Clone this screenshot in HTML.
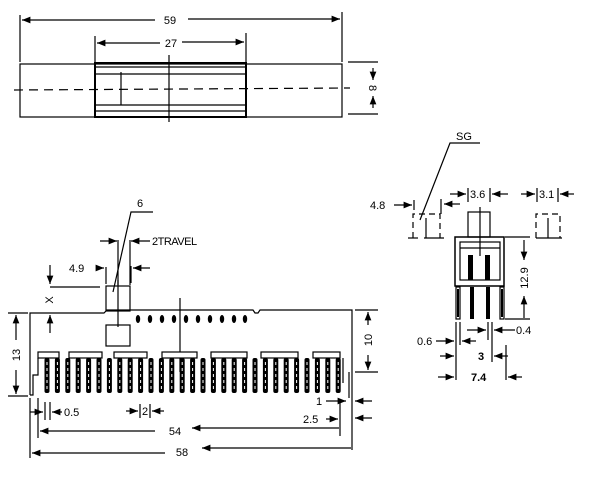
<!DOCTYPE html>
<html><head><style>body{margin:0;background:#fff}svg{display:block}text{font-family:"Liberation Sans",sans-serif;font-size:11px;fill:#000}</style></head>
<body>
<svg width="600" height="486" viewBox="0 0 600 486" xmlns="http://www.w3.org/2000/svg">
<defs>
<marker id="a" viewBox="0 0 10 10" refX="10" refY="5" markerWidth="7" markerHeight="7" orient="auto-start-reverse"><path d="M0,1L10,5L0,9z" fill="#000"/></marker>
</defs>
<g stroke="#000" fill="none" stroke-width="1.2">
<!-- TOP VIEW -->
<line x1="20" y1="15" x2="20" y2="62"/><line x1="342" y1="12" x2="342" y2="62"/>
<line x1="155" y1="20" x2="22" y2="20" marker-end="url(#a)"/>
<line x1="188" y1="19" x2="340" y2="19" marker-end="url(#a)"/>
<line x1="95" y1="36" x2="95" y2="62"/><line x1="246" y1="33" x2="246" y2="62"/>
<line x1="160" y1="43" x2="97" y2="43" marker-end="url(#a)"/>
<line x1="182" y1="42" x2="244" y2="42" marker-end="url(#a)"/>
<rect x="20" y="64" width="322" height="53"/>
<rect x="95" y="63" width="151" height="54" stroke-width="2"/>
<line x1="95" y1="67" x2="246" y2="67"/><line x1="95" y1="74" x2="246" y2="74"/>
<line x1="95" y1="105" x2="246" y2="105"/><line x1="95" y1="111" x2="246" y2="111"/>
<line x1="121" y1="72" x2="121" y2="105"/>
<line x1="169" y1="55" x2="169" y2="122"/>
<line x1="14" y1="90" x2="350" y2="88" stroke-dasharray="9,6"/>
<line x1="348" y1="62" x2="378" y2="62"/><line x1="348" y1="114" x2="378" y2="114"/>
<line x1="373" y1="68" x2="373" y2="80" marker-end="url(#a)"/>
<line x1="373" y1="108" x2="373" y2="96" marker-end="url(#a)"/>

<!-- FRONT VIEW -->
<path d="M30,395 L30,313 L104,313 L107,310 L253,310 L255,313 L258,313 L260,310 L352,310 L352,372"/>
<rect x="106" y="286" width="24" height="25"/>
<rect x="106" y="325" width="24" height="21"/>
<line x1="118" y1="280" x2="118" y2="327"/>
<line x1="180" y1="298" x2="180" y2="372"/>
<path d="M30,395 L33,395 L33,375 L38,375 L38,358"/>
<path d="M343,358 L343,383 M349,372 L349,398 M352,372 L352,398"/>
<polyline points="113,292 131,212 153,212"/>
<line x1="100" y1="241" x2="117" y2="241" marker-end="url(#a)"/>
<line x1="150" y1="241" x2="131" y2="241" marker-end="url(#a)"/>
<line x1="118" y1="240" x2="118" y2="285"/><line x1="130" y1="240" x2="130" y2="285"/>
<line x1="96" y1="268" x2="104" y2="268" marker-end="url(#a)"/>
<line x1="106" y1="267" x2="106" y2="284"/>
<line x1="150" y1="268" x2="133" y2="268" marker-end="url(#a)"/>
<line x1="131" y1="266" x2="131" y2="283"/>
<line x1="50" y1="265" x2="50" y2="284" marker-end="url(#a)"/>
<line x1="50" y1="287" x2="100" y2="287"/>
<line x1="50" y1="333" x2="50" y2="315" marker-end="url(#a)"/>
<line x1="8" y1="313" x2="28" y2="313"/><line x1="8" y1="396" x2="28" y2="396"/>
<line x1="16" y1="340" x2="16" y2="315" marker-end="url(#a)"/>
<line x1="16" y1="370" x2="16" y2="394" marker-end="url(#a)"/>
<line x1="355" y1="310" x2="378" y2="310"/><line x1="355" y1="372" x2="378" y2="372"/>
<line x1="368" y1="325" x2="368" y2="312" marker-end="url(#a)"/>
<line x1="368" y1="355" x2="368" y2="370" marker-end="url(#a)"/>
<!-- bottom dims -->
<line x1="30" y1="398" x2="30" y2="458"/><line x1="38" y1="398" x2="38" y2="438"/>
<line x1="45" y1="402" x2="45" y2="420"/><line x1="50" y1="402" x2="50" y2="420"/>
<line x1="30" y1="412" x2="43" y2="412" marker-end="url(#a)"/>
<line x1="62" y1="412" x2="52" y2="412" marker-end="url(#a)"/>
<line x1="140" y1="404" x2="140" y2="418"/><line x1="150" y1="404" x2="150" y2="418"/>
<line x1="126" y1="411" x2="138" y2="411" marker-end="url(#a)"/>
<line x1="164" y1="411" x2="152" y2="411" marker-end="url(#a)"/>
<line x1="155" y1="431" x2="40" y2="431" marker-end="url(#a)"/>
<line x1="339" y1="428" x2="192" y2="428" marker-end="url(#a)"/>
<line x1="340" y1="400" x2="340" y2="436"/>
<line x1="165" y1="453" x2="32" y2="453" marker-end="url(#a)"/>
<line x1="351" y1="448" x2="202" y2="448" marker-end="url(#a)"/>
<line x1="352" y1="398" x2="352" y2="450"/>
<line x1="326" y1="401" x2="346" y2="401" marker-end="url(#a)"/>
<line x1="372" y1="401" x2="355" y2="401" marker-end="url(#a)"/>
<line x1="372" y1="418" x2="355" y2="418" marker-end="url(#a)"/>
<line x1="326" y1="419" x2="338" y2="419" marker-end="url(#a)"/>

<!-- SIDE VIEW -->
<rect x="455" y="237" width="49" height="49" stroke-width="1.5"/>
<rect x="460" y="242" width="40" height="38"/>
<line x1="460" y1="248" x2="500" y2="248"/>
<rect x="468" y="212" width="22" height="25"/>
<line x1="480" y1="207" x2="480" y2="256"/>
<rect x="456" y="287" width="4" height="32"/><rect x="500" y="287" width="4" height="32"/>
<g stroke-dasharray="6,4">
<path d="M413,238 L413,214 L440,214 L440,238"/>
<path d="M536,238 L536,214 L560,214 L560,238"/>
</g>
<line x1="426" y1="218" x2="426" y2="238"/><line x1="548" y1="218" x2="548" y2="238"/>
<line x1="408" y1="238" x2="418" y2="238"/><line x1="424" y1="238" x2="444" y2="238"/>
<line x1="536" y1="238" x2="562" y2="238"/>
<polyline points="420,220 450,143 480,143"/>
<line x1="394" y1="205" x2="412" y2="205" marker-end="url(#a)"/>
<line x1="414" y1="200" x2="414" y2="210"/><line x1="441" y1="199" x2="441" y2="214"/>
<line x1="460" y1="204" x2="444" y2="204" marker-end="url(#a)"/>
<line x1="450" y1="194" x2="466" y2="194" marker-end="url(#a)"/>
<line x1="468" y1="188" x2="468" y2="202"/><line x1="490" y1="188" x2="490" y2="202"/>
<line x1="508" y1="194" x2="492" y2="194" marker-end="url(#a)"/>
<line x1="521" y1="194" x2="535" y2="194" marker-end="url(#a)"/>
<line x1="537" y1="188" x2="537" y2="202"/><line x1="558" y1="188" x2="558" y2="202"/>
<line x1="574" y1="194" x2="560" y2="194" marker-end="url(#a)"/>
<line x1="505" y1="237" x2="530" y2="237"/><line x1="505" y1="319" x2="530" y2="319"/>
<line x1="524" y1="240" x2="524" y2="260" marker-end="url(#a)"/>
<line x1="524" y1="318" x2="524" y2="296" marker-end="url(#a)"/>
<line x1="456" y1="322" x2="456" y2="380"/><line x1="460" y1="322" x2="460" y2="345"/>
<line x1="488" y1="322" x2="488" y2="340"/><line x1="492" y1="322" x2="492" y2="362"/>
<line x1="506" y1="345" x2="506" y2="380"/>
<line x1="436" y1="341" x2="454" y2="341" marker-end="url(#a)"/>
<line x1="476" y1="341" x2="462" y2="341" marker-end="url(#a)"/>
<line x1="467" y1="330" x2="486" y2="330" marker-end="url(#a)"/>
<line x1="515" y1="330" x2="494" y2="330" marker-end="url(#a)"/>
<line x1="440" y1="356" x2="454" y2="356" marker-end="url(#a)"/>
<line x1="508" y1="356" x2="494" y2="356" marker-end="url(#a)"/>
<line x1="438" y1="377" x2="454" y2="377" marker-end="url(#a)"/>
<line x1="522" y1="377" x2="508" y2="377" marker-end="url(#a)"/>
</g>
<g fill="#000">
<rect x="468" y="255" width="5" height="25"/><rect x="485" y="255" width="5" height="25"/>
<rect x="470" y="287" width="4" height="32"/><rect x="486" y="287" width="4" height="32"/>
<rect x="457" y="289" width="2" height="28"/><rect x="501" y="289" width="2" height="28"/>
<ellipse cx="138" cy="319" rx="2.2" ry="4"/><ellipse cx="150" cy="319" rx="2.2" ry="4"/><ellipse cx="162" cy="319" rx="2.2" ry="4"/><ellipse cx="174" cy="319" rx="2.2" ry="4"/><ellipse cx="186" cy="319" rx="2.2" ry="4"/><ellipse cx="198" cy="319" rx="2.2" ry="4"/><ellipse cx="210" cy="319" rx="2.2" ry="4"/><ellipse cx="222" cy="319" rx="2.2" ry="4"/><ellipse cx="234" cy="319" rx="2.2" ry="4"/><ellipse cx="245" cy="319" rx="2.2" ry="4"/>
</g>
<g stroke="#000" fill="#fff" stroke-width="1.2">
<rect x="38" y="352" width="21" height="6"/><rect x="69" y="352" width="33" height="6"/><rect x="114" y="352" width="33" height="6"/><rect x="162" y="352" width="35" height="6"/><rect x="211" y="352" width="36" height="6"/><rect x="261" y="352" width="37" height="6"/><rect x="313" y="352" width="27" height="6"/>
</g>
<g fill="#000" stroke="none">
<rect x="44.5" y="358" width="5" height="35" rx="2"/><rect x="54.9" y="358" width="5" height="35" rx="2"/><rect x="65.3" y="358" width="5" height="35" rx="2"/><rect x="75.7" y="358" width="5" height="35" rx="2"/><rect x="86.1" y="358" width="5" height="35" rx="2"/><rect x="96.5" y="358" width="5" height="35" rx="2"/><rect x="106.9" y="358" width="5" height="35" rx="2"/><rect x="117.3" y="358" width="5" height="35" rx="2"/><rect x="127.7" y="358" width="5" height="35" rx="2"/><rect x="138.1" y="358" width="5" height="35" rx="2"/><rect x="148.5" y="358" width="5" height="35" rx="2"/><rect x="158.9" y="358" width="5" height="35" rx="2"/><rect x="169.3" y="358" width="5" height="35" rx="2"/><rect x="179.7" y="358" width="5" height="35" rx="2"/><rect x="190.1" y="358" width="5" height="35" rx="2"/><rect x="200.5" y="358" width="5" height="35" rx="2"/><rect x="210.9" y="358" width="5" height="35" rx="2"/><rect x="221.3" y="358" width="5" height="35" rx="2"/><rect x="231.7" y="358" width="5" height="35" rx="2"/><rect x="242.1" y="358" width="5" height="35" rx="2"/><rect x="252.5" y="358" width="5" height="35" rx="2"/><rect x="262.9" y="358" width="5" height="35" rx="2"/><rect x="273.3" y="358" width="5" height="35" rx="2"/><rect x="283.7" y="358" width="5" height="35" rx="2"/><rect x="294.1" y="358" width="5" height="35" rx="2"/><rect x="304.5" y="358" width="5" height="35" rx="2"/><rect x="314.9" y="358" width="5" height="35" rx="2"/><rect x="325.3" y="358" width="5" height="35" rx="2"/><rect x="335.7" y="358" width="5" height="35" rx="2"/>
</g>
<path stroke="#fff" stroke-width="1" stroke-dasharray="3,3" fill="none" d="M47,362V390M57.4,362V390M67.8,362V390M78.2,362V390M88.6,362V390M99,362V390M109.4,362V390M119.8,362V390M130.2,362V390M140.6,362V390M151,362V390M161.4,362V390M171.8,362V390M182.2,362V390M192.6,362V390M203,362V390M213.4,362V390M223.8,362V390M234.2,362V390M244.6,362V390M255,362V390M265.4,362V390M275.8,362V390M286.2,362V390M296.6,362V390M307,362V390M317.4,362V390M327.8,362V390M338.2,362V390"/>
<text x="170" y="24" text-anchor="middle">59</text>
<text x="171" y="47" text-anchor="middle">27</text>
<text transform="translate(369,88) rotate(90)" text-anchor="middle">8</text>
<text x="140" y="207" text-anchor="middle">6</text>
<text x="152" y="245" font-size="10" letter-spacing="-0.5">2TRAVEL</text>
<text x="69" y="272" font-size="10">4.9</text>
<text transform="translate(53,300) rotate(-90)" text-anchor="middle">X</text>
<text transform="translate(20,355) rotate(-90)" text-anchor="middle">13</text>
<text transform="translate(372,340) rotate(-90)" text-anchor="middle">10</text>
<text x="64" y="416" font-size="10">0.5</text>
<text x="142" y="415" font-size="10">2</text>
<text x="175" y="435" text-anchor="middle">54</text>
<text x="182" y="456" text-anchor="middle">58</text>
<text x="316" y="405" font-size="10">1</text>
<text x="303" y="423" font-size="10">2.5</text>
<text x="456" y="140" font-size="10">SG</text>
<text x="370" y="209" font-size="10">4.8</text>
<text x="470" y="198" font-size="10">3.6</text>
<text x="539" y="198" font-size="10">3.1</text>
<text transform="translate(528,278) rotate(-90)" text-anchor="middle" font-size="10">12.9</text>
<text x="417" y="345" font-size="10">0.6</text>
<text x="516" y="334" font-size="10">0.4</text>
<text x="478" y="360" font-size="11" font-weight="bold">3</text>
<text x="471" y="381" font-size="11" font-weight="bold">7.4</text>
</svg>
</body></html>
